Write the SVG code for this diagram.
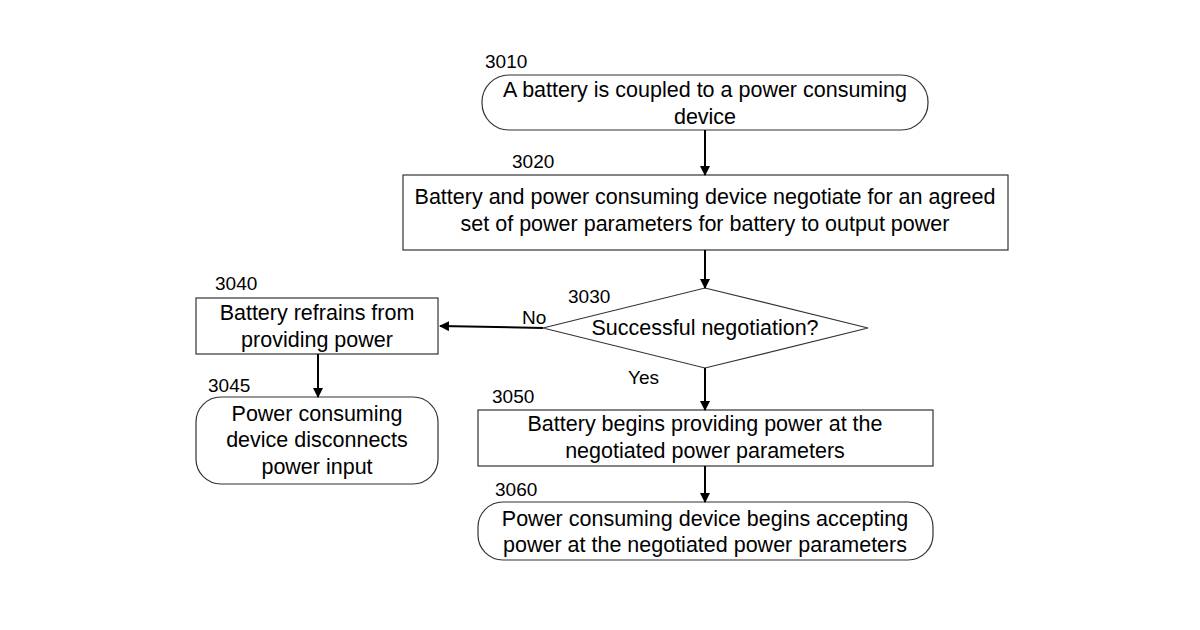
<svg xmlns="http://www.w3.org/2000/svg" width="1200" height="630" viewBox="0 0 1200 630">
<style>
.s{fill:#fff;stroke:#333;stroke-width:1.2}
text{font-family:"Liberation Sans",Arial,sans-serif;font-size:19px;fill:#000}
.c{text-anchor:middle;font-size:21.5px}
.e{stroke:#000;stroke-width:2;fill:none;marker-end:url(#a)}
</style>
<defs><marker id="a" markerWidth="10" markerHeight="10" refX="9" refY="5" orient="auto" markerUnits="userSpaceOnUse"><path d="M0,0 L10,5 L0,10 Z" fill="#000"/></marker></defs>
<rect width="1200" height="630" fill="#fff"/>
<g id="n3010"><text x="485" y="68">3010</text><rect class="s" x="482" y="75" width="446" height="55" rx="27"/><text class="c" x="705" y="97">A battery is coupled to a power consuming</text><text class="c" x="705" y="124">device</text></g>
<g id="n3020"><text x="512" y="168">3020</text><rect class="s" x="403" y="175" width="605" height="75"/><text class="c" x="705" y="204">Battery and power consuming device negotiate for an agreed</text><text class="c" x="705" y="231">set of power parameters for battery to output power</text></g>
<g id="n3030"><text x="568" y="303">3030</text><polygon class="s" points="705,288 868,328 705,368 543,328"/><text class="c" x="705" y="335">Successful negotiation?</text></g>
<g id="n3040"><text x="215" y="290">3040</text><rect class="s" x="196" y="298" width="242" height="56"/><text class="c" x="317" y="320">Battery refrains from</text><text class="c" x="317" y="347">providing power</text></g>
<g id="n3045"><text x="208" y="392">3045</text><rect class="s" x="196" y="397" width="242" height="87" rx="25"/><text class="c" x="317" y="421">Power consuming</text><text class="c" x="317" y="447">device disconnects</text><text class="c" x="317" y="474">power input</text></g>
<g id="n3050"><text x="492" y="403">3050</text><rect class="s" x="478" y="410" width="455" height="56"/><text class="c" x="705" y="431">Battery begins providing power at the</text><text class="c" x="705" y="458">negotiated power parameters</text></g>
<g id="n3060"><text x="495" y="496">3060</text><rect class="s" x="478" y="502" width="455" height="58" rx="25"/><text class="c" x="705" y="526">Power consuming device begins accepting</text><text class="c" x="705" y="552">power at the negotiated power parameters</text></g>
<g id="edges">
<line class="e" x1="543" y1="328" x2="440" y2="326"/>
<line class="e" x1="705" y1="130" x2="705" y2="175"/>
<line class="e" x1="705" y1="250" x2="705" y2="288"/>
<line class="e" x1="318" y1="354" x2="318" y2="397"/>
<line class="e" x1="705" y1="368" x2="705" y2="410"/>
<line class="e" x1="705" y1="466" x2="705" y2="502"/>
<text x="522" y="324">No</text><text x="628" y="384">Yes</text>
</g>
</svg>
